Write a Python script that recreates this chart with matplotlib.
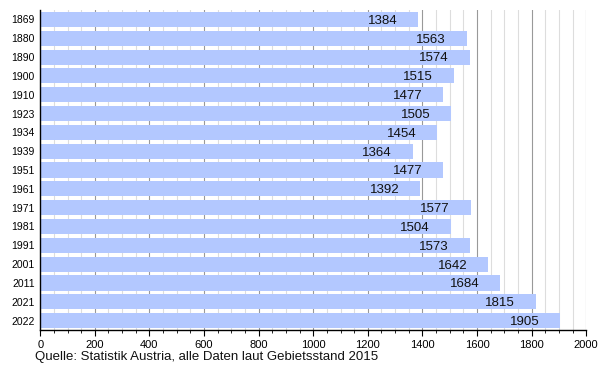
import matplotlib.pyplot as plt
from matplotlib.ticker import MultipleLocator

plt.rcParams['font.family'] = ['Liberation Sans', 'DejaVu Sans']

years = ['1869', '1880', '1890', '1900', '1910', '1923', '1934', '1939', '1951',
         '1961', '1971', '1981', '1991', '2001', '2011', '2021', '2022']
population = [1384, 1563, 1574, 1515, 1477, 1505, 1454, 1364, 1477,
              1392, 1577, 1504, 1573, 1642, 1684, 1815, 1905]

fig = plt.figure(figsize=(6, 3.7), dpi=100)
ax = fig.add_axes([0.067, 0.108, 0.91, 0.865])

pos = list(range(len(years)))
bars = ax.barh(pos, population, height=0.8, color='#b3c8ff', zorder=2)
for p, v in zip(pos, population):
    ax.annotate(str(v), (v, p), xytext=(-15, -1), textcoords='offset points',
                ha='right', va='center', fontsize=9.5, color='#111111', zorder=3)

ax.set_yticks(pos)
ax.set_yticklabels(years, fontsize=7.5)
ax.set_ylim(len(years) - 0.5, -0.5)
ax.set_xlim(0, 2000)
ax.xaxis.set_major_locator(MultipleLocator(200))
ax.xaxis.set_minor_locator(MultipleLocator(50))
ax.tick_params(axis='x', labelsize=8, direction='out', length=4, width=0.8)
ax.tick_params(axis='x', which='minor', length=2, width=0.6)
ax.tick_params(axis='y', length=0, pad=4)

ax.grid(axis='x', which='major', color='#999999', linewidth=0.8, zorder=0)
ax.grid(axis='x', which='minor', color='#dddddd', linewidth=0.8, zorder=0)
ax.set_axisbelow(True)

for s in ['top', 'right']:
    ax.spines[s].set_visible(False)
ax.spines['left'].set_linewidth(1)
ax.spines['bottom'].set_linewidth(1)

fig.text(0.058, 0.028, 'Quelle: Statistik Austria, alle Daten laut Gebietsstand 2015',
         fontsize=9.5, color='#111111')

fig.savefig('out.png', dpi=100)
